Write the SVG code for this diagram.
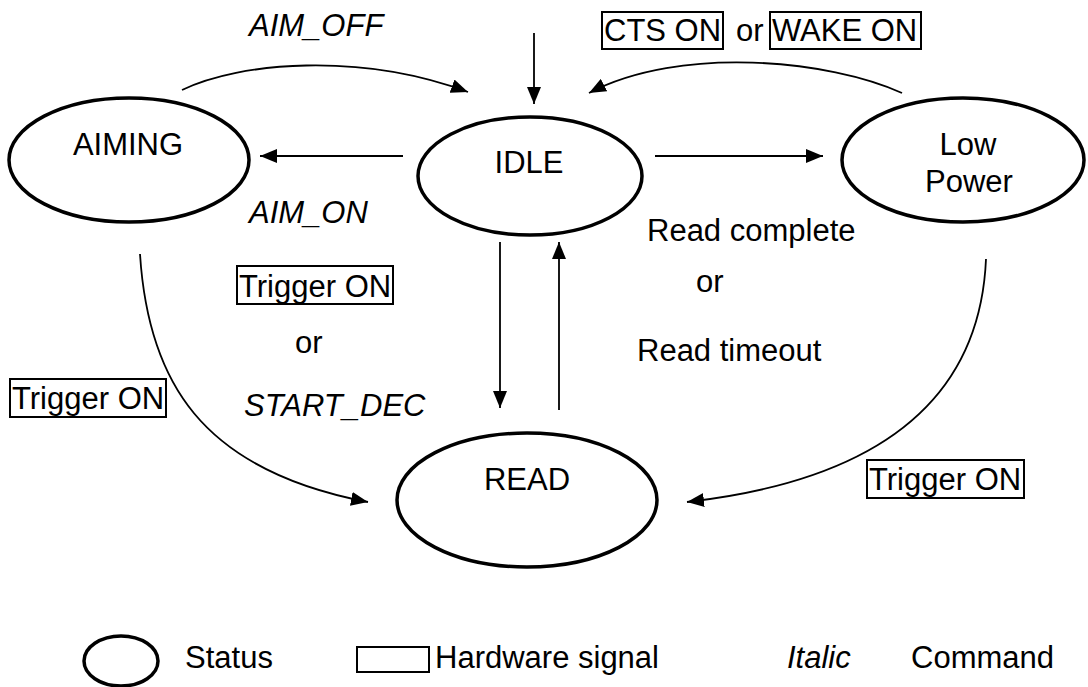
<svg xmlns="http://www.w3.org/2000/svg" width="1088" height="687" viewBox="0 0 1088 687">
<style>
text{font-family:"Liberation Sans",Arial,sans-serif;font-size:31px;fill:#000}
.it{font-style:italic}
.mid{text-anchor:middle}
.st{fill:none;stroke:#000;stroke-width:3.5}
.box{fill:none;stroke:#000;stroke-width:2}
.cn{fill:none;stroke:#000;stroke-width:1.8}
</style>
<defs>
<marker id="ah" markerUnits="userSpaceOnUse" markerWidth="18" markerHeight="14" refX="17" refY="7" orient="auto">
<path d="M0,0 L17,7 L0,14 z" fill="#000"/>
</marker>
</defs>
<rect width="1088" height="687" fill="#fff"/>
<g id="connectors">
<path class="cn" d="M534,33 L534,104" marker-end="url(#ah)"/>
<path class="cn" d="M182,90 C240,62 360,52 468,92" marker-end="url(#ah)"/>
<path class="cn" d="M902,93 C830,60 680,45 589,93" marker-end="url(#ah)"/>
<path class="cn" d="M403,156 L260,156" marker-end="url(#ah)"/>
<path class="cn" d="M655,156 L823,156" marker-end="url(#ah)"/>
<path class="cn" d="M500,242 L500,408" marker-end="url(#ah)"/>
<path class="cn" d="M559,410 L559,242" marker-end="url(#ah)"/>
<path class="cn" d="M140,254 C148,380 200,470 368,502" marker-end="url(#ah)"/>
<path class="cn" d="M986,259 C980,400 880,480 687,502" marker-end="url(#ah)"/>
</g>
<g id="labels">
<text class="it" x="249" y="36">AIM_OFF</text>
<text class="it" x="249" y="223">AIM_ON</text>
<rect class="box" x="602" y="12" width="121" height="37"/>
<text x="604" y="41">CTS ON</text>
<text x="736" y="41">or</text>
<rect class="box" x="770" y="12" width="151" height="37"/>
<text x="772" y="41">WAKE ON</text>
<text x="647" y="241">Read complete</text>
<text x="696" y="292">or</text>
<text x="637" y="361">Read timeout</text>
<rect class="box" x="237" y="266" width="156" height="38"/>
<text x="239" y="297">Trigger ON</text>
<text x="295" y="353">or</text>
<text class="it" x="244" y="416">START_DEC</text>
<rect class="box" x="10" y="379" width="156" height="38"/>
<text x="12" y="409">Trigger ON</text>
<rect class="box" x="867" y="460" width="157" height="38"/>
<text x="869" y="490">Trigger ON</text>
</g>
<g id="aiming">
<ellipse class="st" cx="129" cy="160" rx="120" ry="62"/>
<text class="mid" x="128" y="155">AIMING</text>
</g>
<g id="idle">
<ellipse class="st" cx="530" cy="176" rx="112" ry="59"/>
<text class="mid" x="529" y="173">IDLE</text>
</g>
<g id="lowpower">
<ellipse class="st" cx="963" cy="160" rx="121" ry="62"/>
<text class="mid" x="968" y="155">Low</text>
<text class="mid" x="969" y="192">Power</text>
</g>
<g id="read">
<ellipse class="st" cx="527" cy="500" rx="130" ry="67"/>
<text class="mid" x="527" y="490">READ</text>
</g>
<g id="legend">
<ellipse class="st" cx="121" cy="661" rx="37" ry="25"/>
<text x="185" y="668">Status</text>
<rect class="box" x="357" y="647" width="72" height="25"/>
<text x="435" y="668">Hardware signal</text>
<text class="it" x="787" y="668">Italic</text>
<text x="911" y="668">Command</text>
</g>
</svg>
